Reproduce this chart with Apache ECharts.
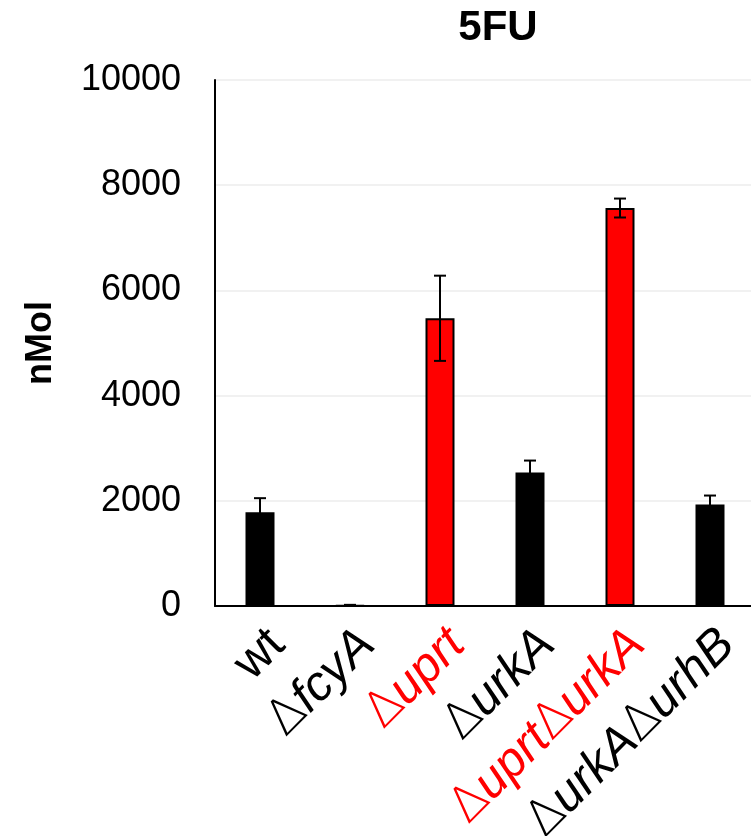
<!DOCTYPE html>
<html>
<head>
<meta charset="utf-8">
<title>5FU</title>
<script src="https://cdn.jsdelivr.net/npm/echarts@6/dist/echarts.min.js"></script>
<style>
  html, body { margin: 0; padding: 0; background: #fff; }
  #chart { width: 751px; height: 836px; }
</style>
</head>
<body>
<div id="chart"></div>
<script>
// strains on the x axis
var strains = ['wt', 'ΔfcyA', 'Δuprt', 'ΔurkA', 'ΔuprtΔurkA', 'ΔurkAΔurhB']
// mean 5FU amount (nMol)
var means = [1780, 12, 5470, 2540, 7566, 1930]
// error (+/-)
var errors = [270, 10, 810, 225, 180, 170]
// uprt deletion strains are drawn in red
var uprtDeleted = [false, false, true, false, true, false]
// y axis ticks
var yMin = 0
var yMax = 10000
var yStep = 2000

var font = 'Liberation Sans, Arial, sans-serif'

// split "ΔurkAΔurhB" into upright Δ + italic gene names
function labelText(name, i) {
  var r = uprtDeleted[i] ? 'r' : ''
  if (name.indexOf('Δ') < 0) return '{n' + r + '|' + name + '}'
  return name.split('Δ').filter(function (s) { return s }).map(function (s) {
    return '{d' + r + '|Δ}{i' + r + '|' + s + '}'
  }).join('')
}

var labelSize = 49
var deltaFont = 'DejaVu Sans, Liberation Sans, sans-serif'
var rich = {
  n: { fontSize: labelSize, fontFamily: font, color: '#000' },
  nr: { fontSize: labelSize, fontFamily: font, color: '#ff0000' },
  d: { fontSize: labelSize, fontFamily: deltaFont, fontWeight: 200, color: '#000' },
  dr: { fontSize: labelSize, fontFamily: deltaFont, fontWeight: 200, color: '#ff0000' },
  i: { fontSize: labelSize, fontFamily: font, fontStyle: 'italic', color: '#000' },
  ir: { fontSize: labelSize, fontFamily: font, fontStyle: 'italic', color: '#ff0000' }
}

var myChart = echarts.init(document.getElementById('chart'))

var options = {
  animation: false,
  title: {
    text: '5FU',
    left: 493,
    top: 2,
    textAlign: 'center',
    textStyle: { fontFamily: font, fontSize: 42, fontWeight: 'bold', color: '#000' }
  },
  grid: {
    left: 215,
    top: 80,
    width: 540,
    height: 526,
    outerBoundsMode: 'none'
  },
  xAxis: {
    type: 'category',
    data: strains,
    axisLine: { show: true, lineStyle: { color: '#000', width: 2 } },
    axisTick: { show: false },
    axisLabel: {
      interval: 0,
      rotate: 45,
      margin: 14,
      verticalAlign: 'top',
      formatter: labelText,
      rich: rich
    }
  },
  yAxis: {
    type: 'value',
    min: yMin,
    max: yMax,
    interval: yStep,
    name: 'nMol',
    nameLocation: 'middle',
    nameRotate: 90,
    nameGap: 156,
    nameTextStyle: { fontFamily: font, fontSize: 36, fontWeight: 'bold', color: '#000' },
    axisLine: { show: true, lineStyle: { color: '#000', width: 2 } },
    axisTick: { show: false },
    axisLabel: {
      margin: 34,
      fontFamily: font,
      fontSize: 36,
      color: '#000',
      formatter: function (v) { return String(v) }
    },
    splitLine: { show: true, lineStyle: { color: '#ececec', width: 1.5 } }
  },
  series: [
    {
      type: 'bar',
      barWidth: 29,
      data: means.map(function (v, i) {
        return {
          value: v,
          itemStyle: {
            color: uprtDeleted[i] ? '#ff0000' : '#000',
            borderColor: '#000',
            borderWidth: 2
          }
        }
      })
    },
    {
      // error bars
      type: 'custom',
      z: 10,
      encode: { x: 0, y: [1, 2] },
      data: means.map(function (m, i) { return [i, m - errors[i], m + errors[i]] }),
      renderItem: function (params, api) {
        var lo = api.coord([api.value(0), api.value(1)])
        var hi = api.coord([api.value(0), api.value(2)])
        var half = 6
        var style = { stroke: '#000', lineWidth: 2 }
        return {
          type: 'group',
          children: [
            { type: 'line', shape: { x1: hi[0], y1: hi[1], x2: lo[0], y2: lo[1] }, style: style },
            { type: 'line', shape: { x1: hi[0] - half, y1: hi[1], x2: hi[0] + half, y2: hi[1] }, style: style },
            { type: 'line', shape: { x1: lo[0] - half, y1: lo[1], x2: lo[0] + half, y2: lo[1] }, style: style }
          ]
        }
      }
    }
  ]
}

myChart.setOption(options)
</script>
</body>
</html>
